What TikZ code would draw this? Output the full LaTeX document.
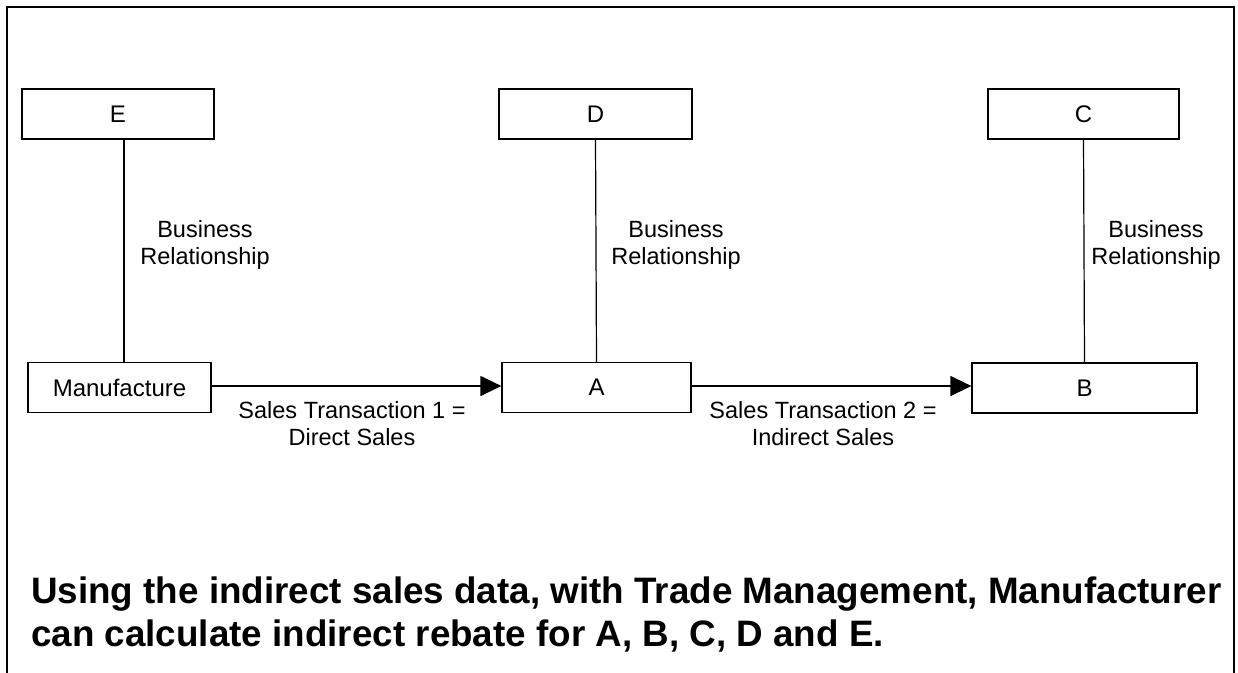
\documentclass[tikz,border=0pt]{standalone}
\usepackage{fontspec}
\setmainfont{Liberation Sans}
\usetikzlibrary{arrows.meta}
\begin{document}
\begin{tikzpicture}[x=1pt,y=-1pt,
  box/.style={draw,line width=1.2pt,minimum height=50pt,inner sep=0pt,font=\fontsize{24}{27}\selectfont},
  link/.style={line width=1.2pt},
  flow/.style={line width=1.2pt,-{Triangle[length=21pt,width=20pt]}},
  lbl/.style={align=center,inner sep=0pt,font=\fontsize{23.5}{27}\selectfont}]
\useasboundingbox (0,0) rectangle (1238,672);
\draw[line width=1.4pt] (7,7) rectangle (1234,700);
\node[box,minimum width=192pt] (E) at (118,114) {E};
\node[box,minimum width=193pt] (D) at (595.5,114) {D};
\node[box,minimum width=191pt] (C) at (1083.5,114) {C};
\node[box,minimum width=183pt] (M) at (119.5,387.5) {Manufacture};
\node[box,minimum width=189pt] (A) at (596.5,387.5) {A};
\node[box,minimum width=225pt] (B) at (1084.5,388) {B};
\draw[link] ([xshift=6pt]E.south) -- ([xshift=4.5pt]M.north);
\draw[link] (D.south) -- (A.north);
\draw[link] (C.south) -- (B.north);
\draw[flow] ([yshift=1.5pt]M.east) -- ([yshift=1.5pt]A.west);
\draw[flow] ([yshift=1.5pt]A.east) -- ([yshift=2pt]B.west);
\node[lbl] (l1) at (205,245) {Business\\Relationship};
\node[lbl] (l2) at (676,245) {Business\\Relationship};
\node[lbl] (l3) at (1156,245) {Business\\Relationship};
\node[lbl] (s1) at (352,424) {Sales Transaction 1 =\\Direct Sales};
\node[lbl] (s2) at (823,424) {Sales Transaction 2 =\\Indirect Sales};
\node[anchor=base west,align=left,inner sep=0pt,font=\fontsize{36.8}{43}\selectfont\bfseries] (t) at (31,646)
  {Using the indirect sales data, with Trade Management, Manufacturer\\can calculate indirect rebate for A, B, C, D and E.};
\end{tikzpicture}
\end{document}
